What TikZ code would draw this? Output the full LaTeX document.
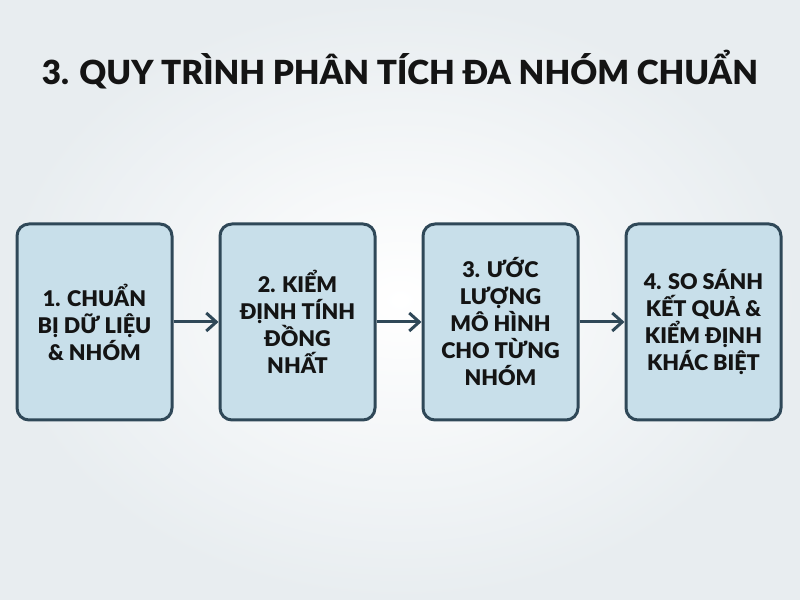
\documentclass[tikz,border=0pt]{standalone}
\usepackage{fontspec}
\setmainfont{Lato}[BoldFont={Lato Black}]
\usetikzlibrary{positioning,arrows.meta}
\definecolor{boxfill}{HTML}{C8DFEA}
\definecolor{boxline}{HTML}{2F4858}
\definecolor{bgedge}{HTML}{E8EDF0}
\definecolor{ink}{HTML}{141414}

\begin{document}
\begin{tikzpicture}[x=0.5pt,y=0.5pt,
	stepbox/.style={draw=boxline,line width=1.5pt,fill=boxfill,rounded corners=6pt,
		minimum width=77.5pt,minimum height=98pt,align=center,text=ink,
		font=\bfseries\fontsize{10.8}{13.5}\selectfont},
	flow/.style={-{Straight Barb[length=5pt,width=9pt]},line width=1.5pt,draw=boxline}]
			\shade [inner color=white,outer color=bgedge] (0,0) rectangle (800,600);
			\useasboundingbox (0,0) rectangle (800,600);
			\node[text=ink,font=\bfseries\fontsize{16.6}{20}\selectfont] (title) at (400,530) {3. QUY TRÌNH PHÂN TÍCH ĐA NHÓM CHUẨN};
			\node[stepbox] (prep) at (94.5,278) {1. CHUẨN\\BỊ DỮ LIỆU\\\& NHÓM};
			\node[stepbox,right=22.5pt of prep] (homog) {2. KIỂM\\ĐỊNH TÍNH\\ĐỒNG\\NHẤT};
			\node[stepbox,right=22.5pt of homog] (estim) {3. ƯỚC\\LƯỢNG\\MÔ HÌNH\\CHO TỪNG\\NHÓM};
			\node[stepbox,right=22.5pt of estim] (compare) {4. SO SÁNH\\KẾT QUẢ \&\\KIỂM ĐỊNH\\KHÁC BIỆT};
			\draw [flow] (prep) -- (homog);
			\draw [flow] (homog) -- (estim);
			\draw [flow] (estim) -- (compare);
			\end{tikzpicture}
\end{document}
